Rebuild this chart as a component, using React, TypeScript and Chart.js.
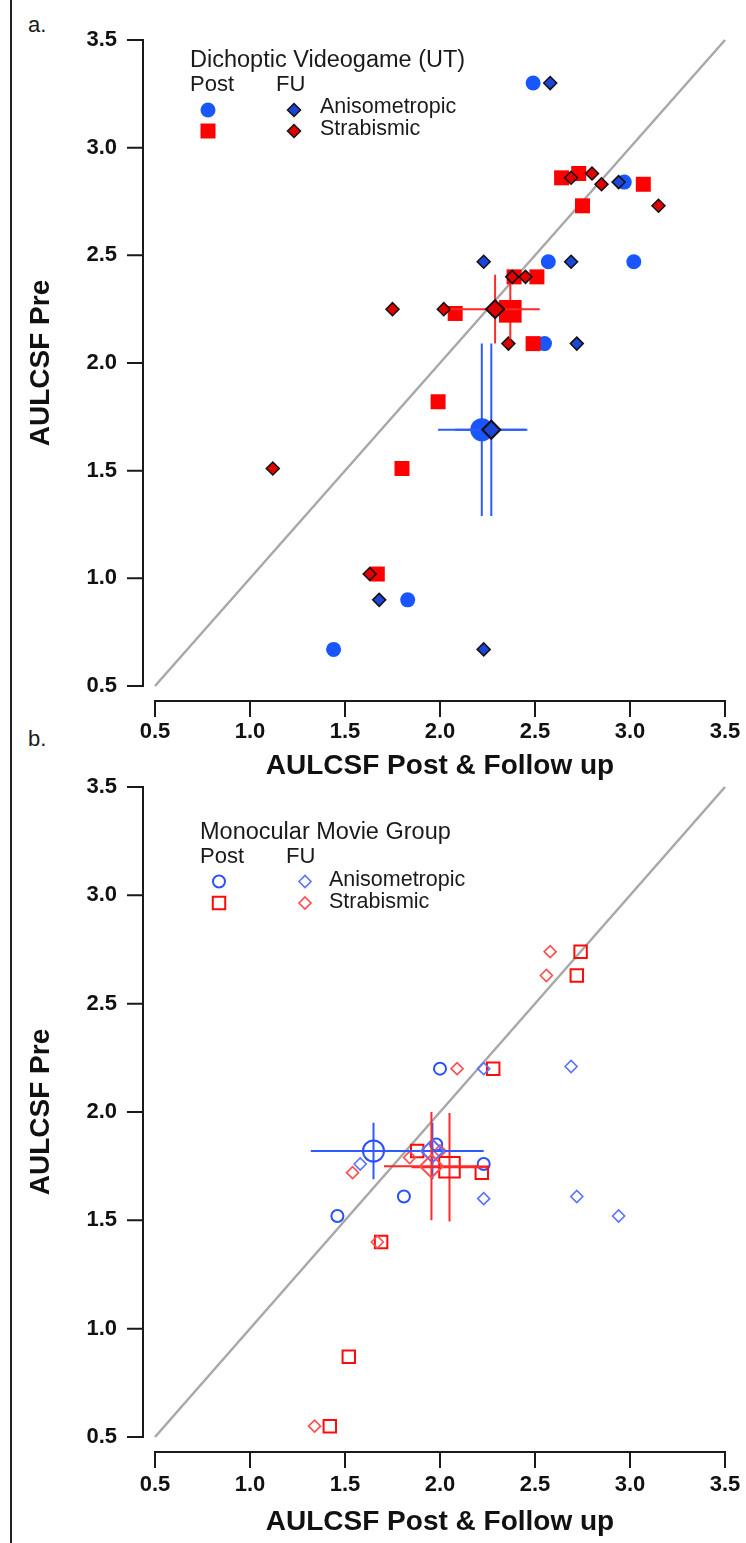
import React, { useEffect, useRef } from 'react';
import { Chart, registerables } from 'chart.js';

Chart.register(...registerables);

const FONT = '"Liberation Sans", Arial, Helvetica, sans-serif';

// ---------- shared axis data ----------
const TICK_VALUES = [0.5, 1.0, 1.5, 2.0, 2.5, 3.0, 3.5];
const TICK_LABELS = ['0.5', '1.0', '1.5', '2.0', '2.5', '3.0', '3.5'];
const IDENTITY_X = [0.5, 3.5];
const IDENTITY_Y = [0.5, 3.5];
const X_TITLE = 'AULCSF Post & Follow up';
const Y_TITLE = 'AULCSF Pre';
const POST_LABEL = 'Post';
const FU_LABEL = 'FU';
const ROW_LABELS = ['Anisometropic', 'Strabismic'];

// ---------- panel a: Dichoptic Videogame (UT) ----------
const A_TITLE = 'Dichoptic Videogame (UT)';
const A_ANISO_POST_X = [2.49, 2.97, 2.57, 3.02, 2.55, 1.83, 1.44];
const A_ANISO_POST_Y = [3.30, 2.84, 2.47, 2.47, 2.09, 0.90, 0.67];
const A_ANISO_FU_X = [2.58, 2.94, 2.23, 2.69, 2.72, 1.68, 2.23];
const A_ANISO_FU_Y = [3.30, 2.84, 2.47, 2.47, 2.09, 0.90, 0.67];
const A_STRAB_POST_X = [2.64, 2.73, 3.07, 2.75, 2.39, 2.51, 2.08, 2.49, 1.99, 1.80, 1.67];
const A_STRAB_POST_Y = [2.86, 2.88, 2.83, 2.73, 2.40, 2.40, 2.23, 2.09, 1.82, 1.51, 1.02];
const A_STRAB_FU_X = [2.69, 2.80, 2.85, 3.15, 2.38, 2.45, 1.75, 2.02, 2.36, 1.12, 1.63];
const A_STRAB_FU_Y = [2.86, 2.88, 2.83, 2.73, 2.40, 2.40, 2.25, 2.25, 2.09, 1.51, 1.02];
const A_MEAN_ANISO_POST = [2.22, 1.69];
const A_ERR_ANISO_POST = [0.23, 0.40];
const A_MEAN_ANISO_FU = [2.27, 1.69];
const A_ERR_ANISO_FU = [0.19, 0.40];
const A_MEAN_STRAB_POST = [2.37, 2.24];
const A_ERR_STRAB_POST = [0, 0.13];
const A_MEAN_STRAB_FU = [2.29, 2.25];
const A_ERR_STRAB_FU = [0.235, 0.16];

// ---------- panel b: Monocular Movie Group ----------
const B_TITLE = 'Monocular Movie Group';
const B_ANISO_POST_X = [2.00, 1.98, 2.23, 1.81, 1.46];
const B_ANISO_POST_Y = [2.20, 1.85, 1.76, 1.61, 1.52];
const B_ANISO_FU_X = [2.23, 2.69, 1.58, 2.23, 2.72, 2.94];
const B_ANISO_FU_Y = [2.20, 2.21, 1.76, 1.60, 1.61, 1.52];
const B_STRAB_POST_X = [2.74, 2.72, 2.28, 1.88, 2.22, 1.69, 1.52, 1.42];
const B_STRAB_POST_Y = [2.74, 2.63, 2.20, 1.82, 1.72, 1.40, 0.87, 0.55];
const B_STRAB_FU_X = [2.58, 2.56, 2.09, 1.84, 2.00, 1.54, 1.67, 1.34];
const B_STRAB_FU_Y = [2.74, 2.63, 2.20, 1.79, 1.82, 1.72, 1.40, 0.55];
const B_MEAN_ANISO_POST = [1.65, 1.82];
const B_ERR_ANISO_POST = [0.33, 0.13];
const B_MEAN_ANISO_FU = [1.96, 1.82];
const B_ERR_ANISO_FU = [0.27, 0.13];
const B_MEAN_STRAB_POST = [2.05, 1.745];
const B_ERR_STRAB_POST = [0.20, 0.25];
const B_MEAN_STRAB_FU = [1.955, 1.75];
const B_ERR_STRAB_FU = [0.25, 0.25];

// ---------- styling ----------
type Marker = { style: string; r: number; fill: string; stroke: string; lw: number };
const CLEAR = 'rgba(0,0,0,0)';

const A_BLUE = '#1a56ff';
const A_BLUE_DIA = '#1d45d8';
const A_RED = '#ff0000';
const A_RED_DIA = '#e00000';
const ERR_BLUE = '#2d5bff';
const ERR_RED = '#ff2a2a';

const B_BLUE = '#2a50ff';
const B_BLUE_DIA = '#5a72ff';
const B_RED = '#ff0a0a';
const B_RED_DIA = '#ff4d4d';

function pts(xs: number[], ys: number[]) {
  return xs.map((x, i) => ({ x, y: ys[i] }));
}

function series(label: string, xs: number[], ys: number[], m: Marker, order: number, err?: number[], errColor?: string) {
  return {
    label,
    data: pts(xs, ys),
    pointStyle: m.style,
    pointRadius: m.r,
    pointHoverRadius: m.r,
    pointBackgroundColor: m.fill,
    pointBorderColor: m.stroke,
    pointBorderWidth: m.lw,
    backgroundColor: m.fill,
    borderColor: m.stroke,
    showLine: false,
    clip: false,
    order,
    errBars: err,
    errColor,
  };
}

function identity() {
  return {
    label: 'identity',
    data: pts(IDENTITY_X, IDENTITY_Y),
    showLine: true,
    pointRadius: 0,
    borderColor: '#a8a8a8',
    borderWidth: 2.5,
    clip: false,
    order: 20,
  };
}

const DATASETS_A = [
  series('aStrabFUMean', [A_MEAN_STRAB_FU[0]], [A_MEAN_STRAB_FU[1]], { style: 'rectRot', r: 9, fill: A_RED_DIA, stroke: '#111', lw: 2 }, 1, A_ERR_STRAB_FU, ERR_RED),
  series('aAnisoFUMean', [A_MEAN_ANISO_FU[0]], [A_MEAN_ANISO_FU[1]], { style: 'rectRot', r: 9, fill: A_BLUE_DIA, stroke: '#111', lw: 2 }, 2, A_ERR_ANISO_FU, ERR_BLUE),
  series('aStrabPostMean', [A_MEAN_STRAB_POST[0]], [A_MEAN_STRAB_POST[1]], { style: 'rect', r: 16, fill: A_RED, stroke: A_RED, lw: 0 }, 3, A_ERR_STRAB_POST, ERR_RED),
  series('aAnisoPostMean', [A_MEAN_ANISO_POST[0]], [A_MEAN_ANISO_POST[1]], { style: 'circle', r: 11.5, fill: A_BLUE, stroke: A_BLUE, lw: 0 }, 4, A_ERR_ANISO_POST, ERR_BLUE),
  series('aStrabFU', A_STRAB_FU_X, A_STRAB_FU_Y, { style: 'rectRot', r: 6.5, fill: A_RED_DIA, stroke: '#111', lw: 1.5 }, 5),
  series('aAnisoFU', A_ANISO_FU_X, A_ANISO_FU_Y, { style: 'rectRot', r: 6.5, fill: A_BLUE_DIA, stroke: '#111', lw: 1.5 }, 6),
  series('aStrabPost', A_STRAB_POST_X, A_STRAB_POST_Y, { style: 'rect', r: 10.6, fill: A_RED, stroke: A_RED, lw: 0 }, 7),
  series('aAnisoPost', A_ANISO_POST_X, A_ANISO_POST_Y, { style: 'circle', r: 7.5, fill: A_BLUE, stroke: A_BLUE, lw: 0 }, 8),
  identity(),
];

const DATASETS_B = [
  series('bStrabFUMean', [B_MEAN_STRAB_FU[0]], [B_MEAN_STRAB_FU[1]], { style: 'rectRot', r: 11.5, fill: CLEAR, stroke: B_RED_DIA, lw: 2 }, 1, B_ERR_STRAB_FU, ERR_RED),
  series('bAnisoFUMean', [B_MEAN_ANISO_FU[0]], [B_MEAN_ANISO_FU[1]], { style: 'rectRot', r: 11.5, fill: CLEAR, stroke: B_BLUE_DIA, lw: 2 }, 2, B_ERR_ANISO_FU, ERR_BLUE),
  series('bStrabPostMean', [B_MEAN_STRAB_POST[0]], [B_MEAN_STRAB_POST[1]], { style: 'rect', r: 14.5, fill: CLEAR, stroke: B_RED, lw: 2 }, 3, B_ERR_STRAB_POST, ERR_RED),
  series('bAnisoPostMean', [B_MEAN_ANISO_POST[0]], [B_MEAN_ANISO_POST[1]], { style: 'circle', r: 10.5, fill: CLEAR, stroke: B_BLUE, lw: 2 }, 4, B_ERR_ANISO_POST, ERR_BLUE),
  series('bStrabFU', B_STRAB_FU_X, B_STRAB_FU_Y, { style: 'rectRot', r: 6, fill: CLEAR, stroke: B_RED_DIA, lw: 1.6 }, 5),
  series('bAnisoFU', B_ANISO_FU_X, B_ANISO_FU_Y, { style: 'rectRot', r: 6, fill: CLEAR, stroke: B_BLUE_DIA, lw: 1.6 }, 6),
  series('bStrabPost', B_STRAB_POST_X, B_STRAB_POST_Y, { style: 'rect', r: 8.8, fill: CLEAR, stroke: B_RED, lw: 2 }, 7),
  series('bAnisoPost', B_ANISO_POST_X, B_ANISO_POST_Y, { style: 'circle', r: 6, fill: CLEAR, stroke: B_BLUE, lw: 2 }, 8),
  identity(),
];

// ---------- layout specs ----------
const PANEL_A = {
  top: 0,
  height: 790,
  padTop: 40,
  xScaleHeight: 104,
  xTickPad: 33,
  xTitlePadBottom: 7,
  xAxisGap: 15,
  datasets: DATASETS_A,
  legend: {
    title: A_TITLE,
    x: 190, titleY: 61, headY: 85, fuX: 276,
    postMarkX: 208, fuMarkX: 294, textX: 320,
    rows: [
      { y: 110, textY: 107, post: 'aAnisoPost', fu: 'aAnisoFU' },
      { y: 131, textY: 129, post: 'aStrabPost', fu: 'aStrabFU' },
    ],
  },
};

const PANEL_B = {
  top: 740,
  height: 803,
  padTop: 47,
  xScaleHeight: 106,
  xTickPad: 35,
  xTitlePadBottom: 4,
  xAxisGap: 15,
  datasets: DATASETS_B,
  legend: {
    title: B_TITLE,
    x: 200, titleY: 93, headY: 117, fuX: 286,
    postMarkX: 219, fuMarkX: 305, textX: 329,
    rows: [
      { y: 141.5, textY: 140, post: 'bAnisoPost', fu: 'bAnisoFU' },
      { y: 163, textY: 162, post: 'bStrabPost', fu: 'bStrabFU' },
    ],
  },
};

function drawMarker(ctx: CanvasRenderingContext2D, ds: any, x: number, y: number) {
  const r = ds.pointRadius;
  ctx.beginPath();
  if (ds.pointStyle === 'circle') {
    ctx.arc(x, y, r, 0, Math.PI * 2);
  } else if (ds.pointStyle === 'rect') {
    const s = r * Math.SQRT1_2;
    ctx.rect(x - s, y - s, 2 * s, 2 * s);
  } else {
    ctx.moveTo(x - r, y);
    ctx.lineTo(x, y - r);
    ctx.lineTo(x + r, y);
    ctx.lineTo(x, y + r);
    ctx.closePath();
  }
  ctx.fillStyle = ds.pointBackgroundColor;
  ctx.fill();
  if (ds.pointBorderWidth > 0) {
    ctx.lineWidth = ds.pointBorderWidth;
    ctx.strokeStyle = ds.pointBorderColor;
    ctx.stroke();
  }
}

function tickLabel(v: any) {
  const i = TICK_VALUES.findIndex((t) => Math.abs(t - Number(v)) < 1e-6);
  return i >= 0 ? TICK_LABELS[i] : '';
}

function decorPlugin(spec: any) {
  return {
    id: 'decor',
    beforeDatasetsDraw(chart: any) {
      const ctx: CanvasRenderingContext2D = chart.ctx;
      const xs = chart.scales.x;
      const ys = chart.scales.y;
      const area = chart.chartArea;
      const axX = area.left - 12;
      const axY = area.bottom + spec.xAxisGap;
      const first = TICK_VALUES[0];
      const last = TICK_VALUES[TICK_VALUES.length - 1];
      ctx.save();
      ctx.strokeStyle = '#1a1a1a';
      ctx.lineWidth = 2;
      ctx.beginPath();
      ctx.moveTo(axX, ys.getPixelForValue(last) - 1);
      ctx.lineTo(axX, ys.getPixelForValue(first) + 1);
      TICK_VALUES.forEach((v) => {
        const py = ys.getPixelForValue(v);
        ctx.moveTo(axX, py);
        ctx.lineTo(axX - 16, py);
      });
      ctx.moveTo(xs.getPixelForValue(first) - 1, axY);
      ctx.lineTo(xs.getPixelForValue(last) + 1, axY);
      TICK_VALUES.forEach((v) => {
        const px = xs.getPixelForValue(v);
        ctx.moveTo(px, axY);
        ctx.lineTo(px, axY + 16);
      });
      ctx.stroke();
      ctx.restore();
    },
    beforeDatasetDraw(chart: any, args: any) {
      const ds = chart.data.datasets[args.index];
      if (!ds.errBars) return;
      const ctx: CanvasRenderingContext2D = chart.ctx;
      const xs = chart.scales.x;
      const ys = chart.scales.y;
      const [ex, ey] = ds.errBars;
      ctx.save();
      ctx.strokeStyle = ds.errColor;
      ctx.lineWidth = 2;
      ds.data.forEach((p: any) => {
        const cx = xs.getPixelForValue(p.x);
        const cy = ys.getPixelForValue(p.y);
        ctx.beginPath();
        if (ex > 0) {
          ctx.moveTo(xs.getPixelForValue(p.x - ex), cy);
          ctx.lineTo(xs.getPixelForValue(p.x + ex), cy);
        }
        if (ey > 0) {
          ctx.moveTo(cx, ys.getPixelForValue(p.y - ey));
          ctx.lineTo(cx, ys.getPixelForValue(p.y + ey));
        }
        ctx.stroke();
      });
      ctx.restore();
    },
    afterDraw(chart: any) {
      const L = spec.legend;
      const ctx: CanvasRenderingContext2D = chart.ctx;
      ctx.save();
      ctx.textBaseline = 'middle';
      ctx.textAlign = 'left';
      ctx.fillStyle = '#1a1a1a';
      ctx.font = `23.5px ${FONT}`;
      ctx.fillText(L.title, L.x, L.titleY);
      ctx.font = `22px ${FONT}`;
      ctx.fillText(POST_LABEL, L.x, L.headY);
      ctx.fillText(FU_LABEL, L.fuX, L.headY);
      L.rows.forEach((row: any, k: number) => {
        const post = chart.data.datasets.find((d: any) => d.label === row.post);
        const fu = chart.data.datasets.find((d: any) => d.label === row.fu);
        drawMarker(ctx, post, L.postMarkX, row.y);
        drawMarker(ctx, fu, L.fuMarkX, row.y);
        ctx.fillStyle = '#1a1a1a';
        ctx.font = `21.5px ${FONT}`;
        ctx.fillText(ROW_LABELS[k], L.textX, row.textY);
      });
      ctx.restore();
    },
  };
}

function buildConfig(spec: any): any {
  const tickFont = { family: FONT, size: 22, weight: 'bold' };
  const titleFont = { family: FONT, size: 28, weight: 'bold' };
  return {
    type: 'scatter',
    data: { datasets: spec.datasets },
    options: {
      responsive: false,
      maintainAspectRatio: false,
      animation: false,
      devicePixelRatio: 1,
      events: [],
      layout: { padding: { top: spec.padTop, right: 21, left: 0, bottom: 0 } },
      plugins: { legend: { display: false }, tooltip: { enabled: false } },
      scales: {
        x: {
          type: 'linear',
          min: TICK_VALUES[0],
          max: TICK_VALUES[TICK_VALUES.length - 1],
          afterBuildTicks: (s: any) => { s.ticks = TICK_VALUES.map((v) => ({ value: v })); },
          afterFit: (s: any) => {
            s.height = spec.xScaleHeight;
            s.paddingLeft = 0;
            s.paddingRight = 0;
          },
          grid: { display: false, drawTicks: false },
          border: { display: false },
          ticks: { padding: spec.xTickPad, color: '#111', font: tickFont, maxRotation: 0, autoSkip: false, callback: tickLabel },
          title: { display: true, text: X_TITLE, color: '#111', font: titleFont, padding: { top: 0, bottom: spec.xTitlePadBottom } },
        },
        y: {
          type: 'linear',
          min: TICK_VALUES[0],
          max: TICK_VALUES[TICK_VALUES.length - 1],
          afterBuildTicks: (s: any) => { s.ticks = TICK_VALUES.map((v) => ({ value: v })); },
          afterFit: (s: any) => {
            s.width = 155;
            s.paddingTop = 0;
            s.paddingBottom = 0;
          },
          grid: { display: false, drawTicks: false },
          border: { display: false },
          ticks: { padding: 38, color: '#111', font: tickFont, autoSkip: false, callback: tickLabel },
          title: { display: true, text: Y_TITLE, color: '#111', font: titleFont, padding: { top: 24, bottom: 0 } },
        },
      },
    },
    plugins: [decorPlugin(spec)],
  };
}

function PanelChart({ spec }: { spec: any }) {
  const ref = useRef<HTMLCanvasElement>(null);
  useEffect(() => {
    if (!ref.current) return;
    const chart = new Chart(ref.current, buildConfig(spec));
    return () => chart.destroy();
  }, [spec]);
  return (
    <canvas
      ref={ref}
      width={746}
      height={spec.height}
      style={{ position: 'absolute', left: 0, top: spec.top, width: 746, height: spec.height, display: 'block' }}
    />
  );
}

export default function App() {
  return (
    <div
      style={{
        position: 'absolute', left: 0, top: 0, width: 746, height: 1543,
        background: '#fff', overflow: 'hidden', fontFamily: FONT, color: '#1a1a1a',
      }}
    >
      <div style={{ position: 'absolute', left: 10, top: 0, width: 2, height: 1543, background: '#222' }} />
      <div style={{ position: 'absolute', left: 28, top: 12, fontSize: 22, lineHeight: '26px' }}>a.</div>
      <div style={{ position: 'absolute', left: 28, top: 726, fontSize: 22, lineHeight: '26px' }}>b.</div>
      <PanelChart spec={PANEL_A} />
      <PanelChart spec={PANEL_B} />
    </div>
  );
}
